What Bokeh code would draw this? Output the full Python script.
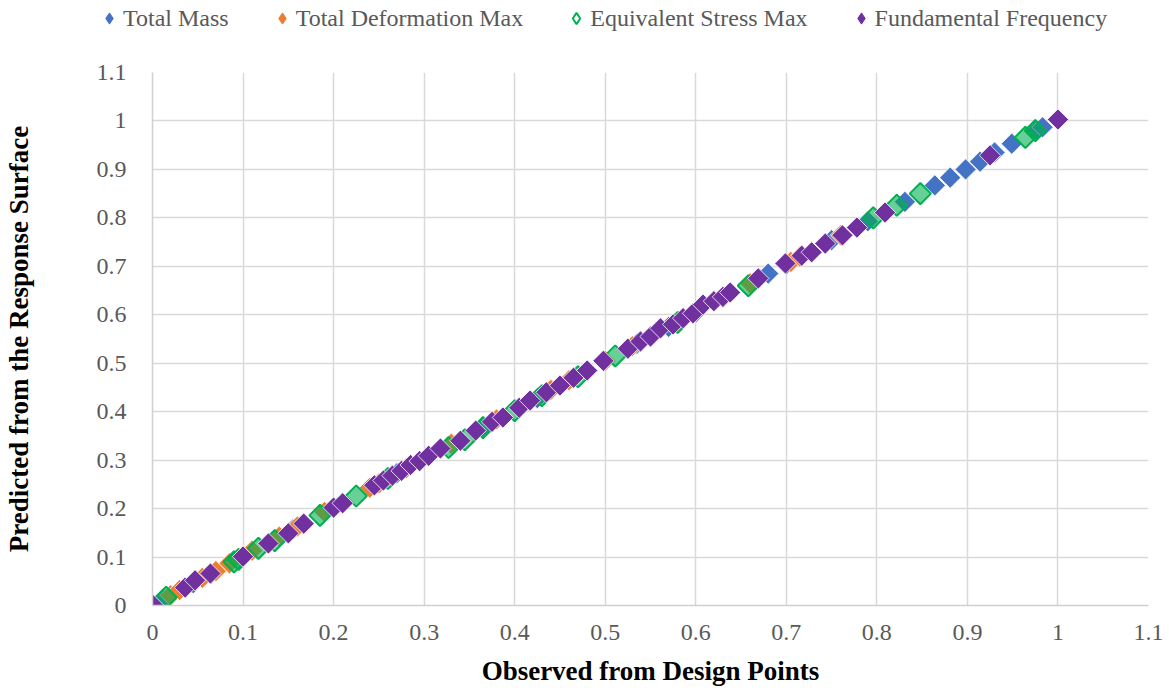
import numpy as np
from bokeh.plotting import figure
from bokeh.layouts import column
from bokeh.models import Range1d, FixedTicker, Legend, LegendItem
from bokeh.embed import file_html
from bokeh.resources import INLINE

ticks = [0.0, 0.1, 0.2, 0.3, 0.4, 0.5, 0.6, 0.7, 0.8, 0.9, 1.0, 1.1]
tick_labels = ["0", "0.1", "0.2", "0.3", "0.4", "0.5", "0.6", "0.7", "0.8", "0.9", "1", "1.1"]

series_names = ["Total Mass", "Total Deformation Max", "Equivalent Stress Max", "Fundamental Frequency"]

mass_obs = [0.012, 0.045, 0.100, 0.155, 0.210, 0.270, 0.330, 0.365, 0.425, 0.480, 0.535, 0.570, 0.600, 0.630, 0.680, 0.700, 0.750, 0.790, 0.831, 0.864, 0.881, 0.898, 0.914, 0.930, 0.949, 0.975, 0.983]
mass_pred = [0.014, 0.046, 0.102, 0.157, 0.212, 0.273, 0.333, 0.368, 0.428, 0.484, 0.540, 0.575, 0.605, 0.636, 0.685, 0.704, 0.754, 0.793, 0.833, 0.867, 0.883, 0.900, 0.916, 0.935, 0.953, 0.978, 0.987]

defo_obs = [0.020, 0.030, 0.055, 0.070, 0.085, 0.100, 0.110, 0.140, 0.160, 0.190, 0.240, 0.250, 0.280, 0.330, 0.380, 0.440, 0.460, 0.500, 0.530, 0.580, 0.630, 0.660, 0.705, 0.715, 0.760]
defo_pred = [0.021, 0.032, 0.057, 0.071, 0.087, 0.103, 0.113, 0.142, 0.163, 0.193, 0.243, 0.252, 0.283, 0.334, 0.384, 0.445, 0.465, 0.505, 0.535, 0.585, 0.636, 0.665, 0.709, 0.720, 0.764]

stress_obs = [0.015, 0.090, 0.095, 0.117, 0.135, 0.185, 0.225, 0.260, 0.327, 0.345, 0.365, 0.400, 0.430, 0.470, 0.511, 0.580, 0.658, 0.796, 0.822, 0.848, 0.964, 0.975]
stress_pred = [0.017, 0.090, 0.095, 0.118, 0.134, 0.186, 0.226, 0.262, 0.326, 0.342, 0.367, 0.402, 0.433, 0.472, 0.515, 0.584, 0.660, 0.800, 0.826, 0.850, 0.966, 0.980]

freq_obs = [0.000, 0.036, 0.047, 0.064, 0.100, 0.128, 0.150, 0.167, 0.200, 0.210, 0.245, 0.255, 0.265, 0.275, 0.285, 0.295, 0.305, 0.318, 0.340, 0.357, 0.375, 0.387, 0.405, 0.417, 0.435, 0.450, 0.465, 0.480, 0.498, 0.525, 0.539, 0.550, 0.561, 0.575, 0.586, 0.597, 0.608, 0.620, 0.630, 0.638, 0.669, 0.699, 0.717, 0.728, 0.743, 0.762, 0.778, 0.809, 0.925, 1.000]
freq_pred = [0.002, 0.037, 0.052, 0.066, 0.101, 0.128, 0.149, 0.169, 0.202, 0.211, 0.248, 0.258, 0.268, 0.278, 0.290, 0.298, 0.309, 0.324, 0.340, 0.361, 0.379, 0.388, 0.408, 0.423, 0.440, 0.454, 0.470, 0.485, 0.505, 0.530, 0.545, 0.555, 0.572, 0.580, 0.593, 0.603, 0.621, 0.628, 0.637, 0.646, 0.675, 0.706, 0.722, 0.729, 0.747, 0.764, 0.780, 0.811, 0.929, 1.003]

colors = ["#4472C4", "#ED7D31", "#00B050", "#7030A0"]
FONT = "Liberation Serif"
W = 1165
LEG_H = 32

xr = Range1d(0, 1.1)
yr = Range1d(0, 1.1)

p = figure(width=W, height=658, output_backend="svg", toolbar_location=None,
           x_range=xr, y_range=yr,
           min_border_left=152, min_border_right=17, min_border_top=40, min_border_bottom=85)
p.outline_line_color = None
p.background_fill_color = "white"
p.border_fill_color = "white"
p.frame_align = False

for ax in (p.xaxis[0], p.yaxis[0]):
    ax.ticker = FixedTicker(ticks=ticks)
    ax.major_label_overrides = {t: l for t, l in zip(ticks, tick_labels)}
    ax.major_label_text_font = FONT
    ax.major_label_text_font_size = "24px"
    ax.major_label_text_color = "#595959"
    ax.major_tick_line_color = None
    ax.minor_tick_line_color = None
    ax.axis_line_color = "#D0D0D0"
    ax.axis_line_width = 1.5
    ax.axis_label_text_font = FONT
    ax.axis_label_text_font_style = "bold"
    ax.axis_label_text_font_size = "27px"
    ax.axis_label_text_color = "#000000"

p.xaxis.axis_label = "Observed from Design Points"
p.yaxis.axis_label = "Predicted from the Response Surface"
p.xaxis.major_label_standoff = 13
p.yaxis.major_label_standoff = 20
p.xaxis.axis_label_standoff = 13
p.yaxis.axis_label_standoff = 60

p.xgrid.ticker = FixedTicker(ticks=ticks)
p.ygrid.ticker = FixedTicker(ticks=ticks)
p.xgrid.grid_line_color = "#D9D9D9"
p.ygrid.grid_line_color = "#D9D9D9"
p.xgrid.grid_line_width = 1.5
p.ygrid.grid_line_width = 1.5

# separate strip above the plot that holds the legend
pl = figure(width=W, height=LEG_H, output_backend="svg", toolbar_location=None,
            x_range=xr, y_range=yr, x_axis_type=None, y_axis_type=None,
            min_border=0, min_border_left=0, min_border_right=0,
            min_border_top=0, min_border_bottom=0)
pl.outline_line_color = None
pl.xgrid.visible = False
pl.ygrid.visible = False
pl.frame_align = False

data = [(mass_obs, mass_pred), (defo_obs, defo_pred), (stress_obs, stress_pred), (freq_obs, freq_pred)]
items = []
for i, ((xo, yp), name, c) in enumerate(zip(data, series_names, colors)):
    if i == 2:
        p.scatter(xo, yp, marker="square", angle=np.pi / 4, size=15,
                  fill_color=c, fill_alpha=0.6, line_color=c, line_width=2)
        leg = pl.scatter(xo, yp, marker="diamond", size=16, fill_color="white",
                         line_color=c, line_width=2, visible=False)
    else:
        p.scatter(xo, yp, marker="square", angle=np.pi / 4, size=15,
                  fill_color=c, line_color="white", line_width=0.8)
        leg = pl.scatter(xo, yp, marker="diamond", size=16, fill_color=c,
                         line_color=c, visible=False)
    items.append(LegendItem(label=name, renderers=[leg]))

legend = Legend(items=items, orientation="horizontal", location=(95, 0),
                label_text_font=FONT, label_text_font_size="24px",
                label_text_color="#595959", glyph_width=28, glyph_height=28,
                spacing=39, label_standoff=0, border_line_color=None,
                background_fill_alpha=0, padding=1, margin=0,
                inactive_fill_alpha=0, click_policy="none")
pl.add_layout(legend, "center")

layout = column(pl, p, spacing=0)
open("out.html", "w").write(file_html(layout, INLINE))
